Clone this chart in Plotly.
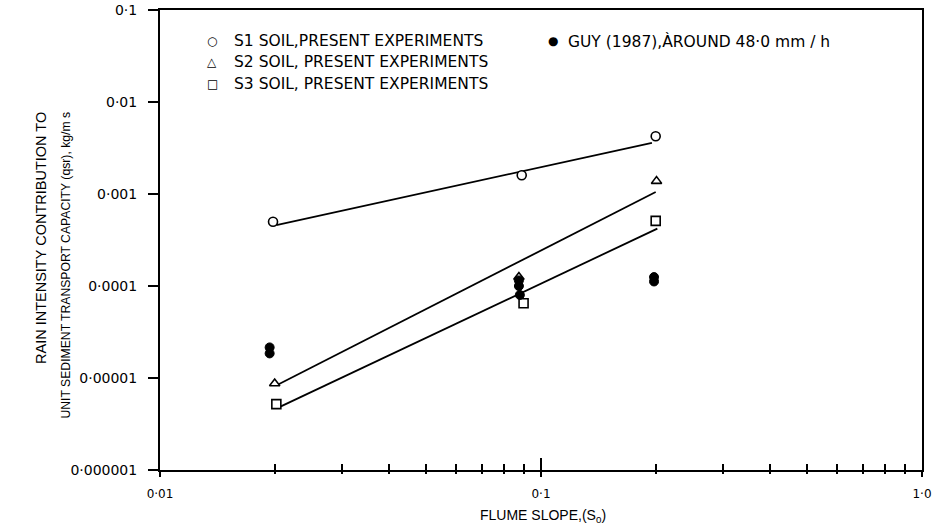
import plotly.graph_objects as go

# ---- data ----
s1_x = [0.0198, 0.089, 0.200]
s1_y = [5.0e-4, 1.6e-3, 4.25e-3]
s2_x = [0.0200, 0.0875, 0.201]
s2_y = [8.7e-6, 1.25e-4, 1.38e-3]
s3_x = [0.0202, 0.090, 0.200]
s3_y = [5.2e-6, 6.5e-5, 5.1e-4]
guy_x = [0.0194, 0.0194, 0.0875, 0.0875, 0.088, 0.198, 0.198]
guy_y = [2.15e-5, 1.85e-5, 1.15e-4, 1.0e-4, 8.0e-5, 1.25e-4, 1.12e-4]

# fitted lines (end points, data units)
fit1_x = [0.0202, 0.1955]
fit1_y = [4.6e-4, 3.6e-3]
fit2_x = [0.0203, 0.200]
fit2_y = [8.4e-6, 1.05e-3]
fit3_x = [0.0205, 0.202]
fit3_y = [4.8e-6, 4.2e-4]

x_tickvals = [0.01, 0.1, 1.0]
x_ticktext = ["0·01", "0·1", "1·0"]
x_minor = [0.02, 0.03, 0.04, 0.05, 0.06, 0.07, 0.08, 0.09,
           0.2, 0.3, 0.4, 0.5, 0.6, 0.7, 0.8, 0.9]
y_tickvals = [1e-6, 1e-5, 1e-4, 1e-3, 1e-2, 1e-1]
y_ticktext = ["0·000001", "0·00001", "0·0001", "0·001", "0·01", "0·1"]

legend_labels = ["S1 SOIL,PRESENT EXPERIMENTS",
                 "S2 SOIL, PRESENT EXPERIMENTS",
                 "S3 SOIL, PRESENT EXPERIMENTS",
                 "GUY (1987),ÀROUND 48·0 mm / h"]
legend_symbols = ["○", "△", "□", "●"]

FONT = "Liberation Sans, DejaVu Sans, sans-serif"
DJ = "DejaVu Sans"

W, H = 943, 529
L, R, T, B = 160, 21, 10, 59
PW, PH = W - L - R, H - T - B


def px_x(p):
    return (p - L) / PW


def px_y(p):
    return (H - B - p) / PH


fig = go.Figure()
for fx, fy in [(fit1_x, fit1_y), (fit2_x, fit2_y), (fit3_x, fit3_y)]:
    fig.add_trace(go.Scatter(x=fx, y=fy, mode="lines",
                             line=dict(color="black", width=1.8),
                             showlegend=False, hoverinfo="skip"))

mk = dict(color="white", size=9, line=dict(color="black", width=1.6))
fig.add_trace(go.Scatter(x=s1_x, y=s1_y, mode="markers", name=legend_labels[0],
                         marker=dict(symbol="circle", **mk), showlegend=False))
fig.add_trace(go.Scatter(x=s2_x, y=s2_y, mode="markers", name=legend_labels[1],
                         marker=dict(symbol="triangle-up", **mk), showlegend=False))
fig.add_trace(go.Scatter(x=s3_x, y=s3_y, mode="markers", name=legend_labels[2],
                         marker=dict(symbol="square", **mk), showlegend=False))
fig.add_trace(go.Scatter(x=guy_x, y=guy_y, mode="markers", name=legend_labels[3],
                         marker=dict(symbol="circle", color="black", size=9,
                                     line=dict(color="black", width=1)),
                         showlegend=False))
# helper trace for the outside part of the cross ticks
fig.add_trace(go.Scatter(x=[], y=[], xaxis="x2", showlegend=False))

fig.update_layout(
    width=W, height=H,
    margin=dict(l=L, r=R, t=T, b=B),
    paper_bgcolor="white", plot_bgcolor="white",
    font=dict(family=FONT, color="black", size=13),
    xaxis=dict(type="log", range=[-2, 0], showgrid=False, zeroline=False,
               showline=True, linecolor="black", linewidth=2, mirror=True,
               tickmode="array", tickvals=x_tickvals, ticktext=x_ticktext,
               ticks="inside", ticklen=12, tickwidth=1.5, tickcolor="black",
               tickfont=dict(size=12, family=DJ), ticklabelstandoff=12,
               automargin=False,
               minor=dict(tickmode="array", tickvals=x_minor, ticks="inside",
                          ticklen=6, tickwidth=1.5, tickcolor="black",
                          showgrid=False)),
    xaxis2=dict(type="log", range=[-2, 0], overlaying="x", side="bottom",
                showgrid=False, zeroline=False, showline=False,
                showticklabels=False, automargin=False,
                tickmode="array", tickvals=x_tickvals,
                ticks="outside", ticklen=6, tickwidth=1.5, tickcolor="black",
                minor=dict(tickmode="array", tickvals=x_minor, ticks="outside",
                           ticklen=3, tickwidth=1.5, tickcolor="black")),
    yaxis=dict(type="log", range=[-6, -1], showgrid=False, zeroline=False,
               showline=True, linecolor="black", linewidth=2, mirror=True,
               tickmode="array", tickvals=y_tickvals, ticktext=y_ticktext,
               ticks="outside", ticklen=10, tickwidth=1.5, tickcolor="black",
               tickfont=dict(size=14, family=DJ), ticklabelstandoff=8,
               automargin=False),
)

# axis titles
fig.add_annotation(text="FLUME SLOPE,(S<sub>0</sub>)", xref="paper", yref="paper",
                   x=px_x(543), y=px_y(516), xanchor="center", yanchor="middle",
                   showarrow=False, font=dict(size=14, family=FONT))
fig.add_annotation(text="RAIN INTENSITY CONTRIBUTION TO", xref="paper", yref="paper",
                   x=px_x(41), y=px_y(110), textangle=-90,
                   xanchor="center", yanchor="top", showarrow=False,
                   font=dict(size=14.5, family=FONT))
fig.add_annotation(text="UNIT SEDIMENT TRANSPORT CAPACITY (qsr), kg/m s",
                   xref="paper", yref="paper",
                   x=px_x(65), y=px_y(110), textangle=-90,
                   xanchor="center", yanchor="top", showarrow=False,
                   font=dict(size=12.2, family=FONT))

# legend drawn as text
rows_px = [41, 62, 84, 41]
sym_px = [212, 212, 212, 553]
txt_px = [232, 232, 232, 566]
for sym, lab, ry, sx, tx in zip(legend_symbols, legend_labels, rows_px, sym_px, txt_px):
    fig.add_annotation(text=sym, xref="paper", yref="paper", x=px_x(sx),
                       y=px_y(ry), xanchor="center", yanchor="middle", showarrow=False,
                       font=dict(size=12, family=DJ))
    fig.add_annotation(text=lab, xref="paper", yref="paper", x=px_x(tx),
                       y=px_y(ry), xanchor="left", yanchor="middle", showarrow=False,
                       font=dict(size=15.5, family=DJ))

fig.write_html("out.html", config={"displayModeBar": False},
               post_script="document.body.style.margin='0';")
